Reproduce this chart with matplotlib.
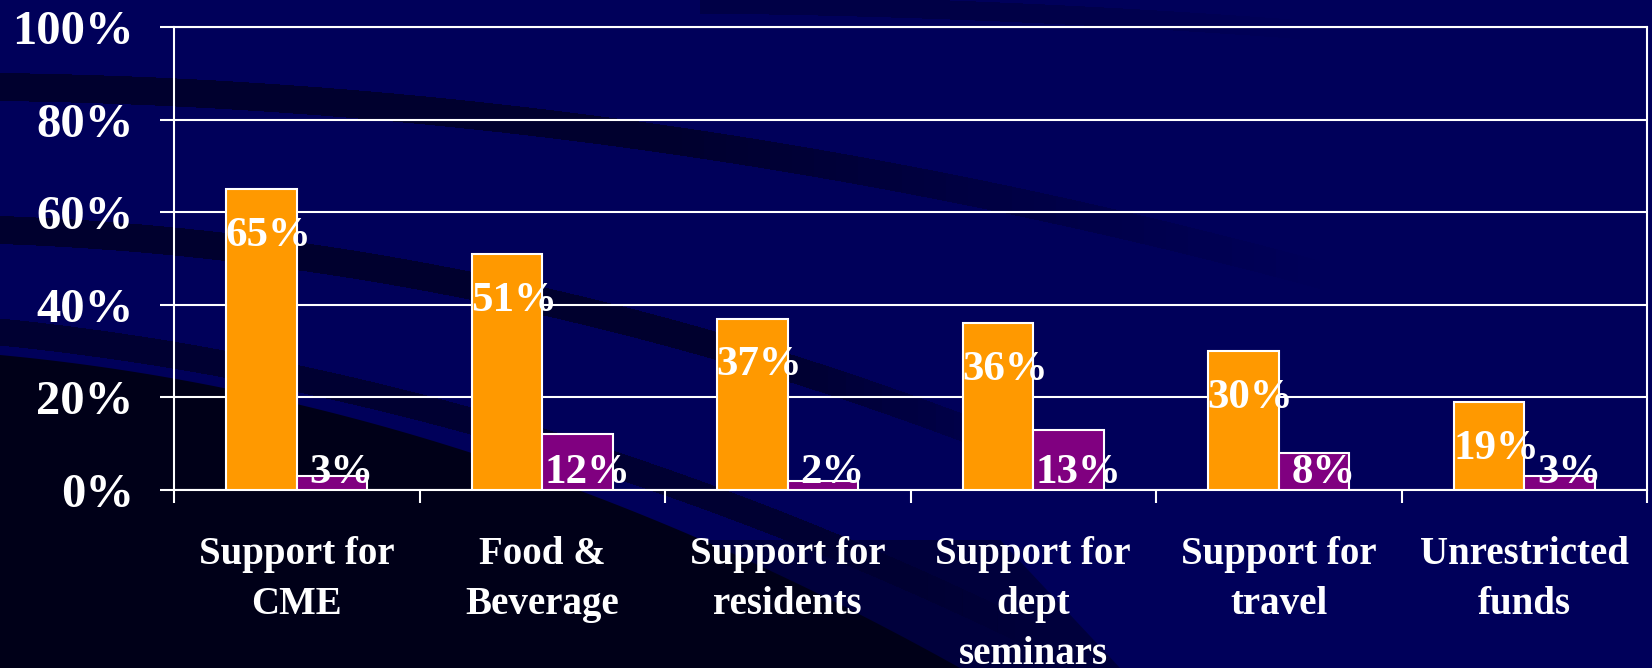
import numpy as np
import matplotlib.pyplot as plt
from matplotlib.patches import Polygon

categories = ['Support for\nCME', 'Food &\nBeverage', 'Support for\nresidents',
              'Support for\ndept\nseminars', 'Support for\ntravel', 'Unrestricted\nfunds']
orange_vals = [65, 51, 37, 36, 30, 19]
purple_vals = [3, 12, 2, 13, 8, 3]
y_ticks = [0, 20, 40, 60, 80, 100]

NAVY = '#00005a'
DARK = '#00002e'
ORANGE = '#ff9900'
PURPLE = '#800080'
FONT = 'Liberation Serif'

plt.rcParams['font.family'] = FONT
plt.rcParams['font.weight'] = 'bold'

W, H = 1652, 668
fig = plt.figure(figsize=(W / 100, H / 100), dpi=100)
fig.patch.set_facecolor(NAVY)

# background swooshes (pixel coords, y down)
bg = fig.add_axes([0, 0, 1, 1], zorder=-5)
bg.set_xlim(0, W)
bg.set_ylim(H, 0)
bg.axis('off')


def curve(pts, xs):
    px, py = zip(*pts)
    return np.polyval(np.polyfit(px, py, 2), xs)


def band(mid, width, x0, x1, color, fade=0.35, n=60):
    # band along a curve, fading out over the last part
    xs = np.linspace(x0, x1, n + 1)
    ym = curve(mid, xs)
    w = width / 2
    for i in range(n):
        t = (xs[i] - x0) / (x1 - x0)
        a = min(1.0, (1 - t) / fade)
        poly = [[xs[i], ym[i] - w], [xs[i + 1], ym[i + 1] - w],
                [xs[i + 1], ym[i + 1] + w], [xs[i], ym[i] + w]]
        bg.add_patch(Polygon(poly, closed=True, color=color, alpha=a, lw=0, antialiased=False))


# darker strip along the bottom
bg.add_patch(Polygon([[0, 540], [1000, 540], [1120, H], [0, H]], closed=True,
                     color='#00003c', lw=0))
# lower left dark area
xs = np.linspace(0, 980, 80)
yu = curve([(0, 355), (430, 440), (960, 668)], xs)
poly = np.vstack([[0, H], np.column_stack([xs, yu]), [980, H]])
bg.add_patch(Polygon(poly, closed=True, color='#000018', lw=0))
band([(0, 332), (430, 410), (1000, 620)], 26, 0, 1050, '#000032', fade=0.15)
band([(0, 87), (420, 110), (1100, 220)], 27, 0, 1320, DARK, fade=0.5)
band([(0, 230), (420, 276), (670, 333)], 27, 0, 1080, DARK, fade=0.3)
band([(700, 4), (950, 10), (1250, 26)], 18, 700, 1300, '#000046', fade=0.5)

ax = fig.add_axes([174 / W, 1 - 490 / H, (1647 - 174) / W, (490 - 27) / H])
ax.set_facecolor('none')

x = np.arange(len(categories))
bw = 0.287
ax.bar(x - bw / 2, orange_vals, bw, color=ORANGE, edgecolor='white', linewidth=1.5, zorder=3)
ax.bar(x + bw / 2, purple_vals, bw, color=PURPLE, edgecolor='white', linewidth=1.5, zorder=3)

for xi, v in zip(x, orange_vals):
    ax.annotate(f'{v}%', (xi - bw / 2, v), xytext=(5, -20), textcoords='offset points',
                ha='center', va='top', color='white', fontsize=31, fontweight='bold', zorder=5)
for xi, v in zip(x, purple_vals):
    ax.annotate(f'{v}%', (xi + bw / 2, 1.5), xytext=(7, 0), textcoords='offset points',
                ha='center', va='baseline', color='white', fontsize=31, fontweight='bold', zorder=5)

ax.set_xlim(-0.5, len(categories) - 0.5)
ax.set_ylim(0, 100)
ax.set_yticks(y_ticks)
ax.set_yticklabels([f'{t}%' for t in y_ticks], fontsize=35, fontweight='bold', color='white')
ax.tick_params(axis='y', direction='out', length=10, width=1.5, color='white', pad=19)

ax.set_xticks(np.arange(len(categories) + 1) - 0.5)
ax.set_xticklabels([])
ax.tick_params(axis='x', which='major', direction='out', length=9.5, width=1.5, color='white')
ax.set_xticks(x, minor=True)
ax.set_xticklabels(categories, minor=True, fontsize=28, fontweight='bold', color='white',
                   linespacing=1.47)
ax.tick_params(axis='x', which='minor', length=0, pad=33)

ax.grid(axis='y', color='white', linewidth=1.5, zorder=0)
ax.set_axisbelow(True)
for s in ax.spines.values():
    s.set_color('white')
    s.set_linewidth(1.5)

fig.savefig('out.png', dpi=100, facecolor=fig.get_facecolor())
